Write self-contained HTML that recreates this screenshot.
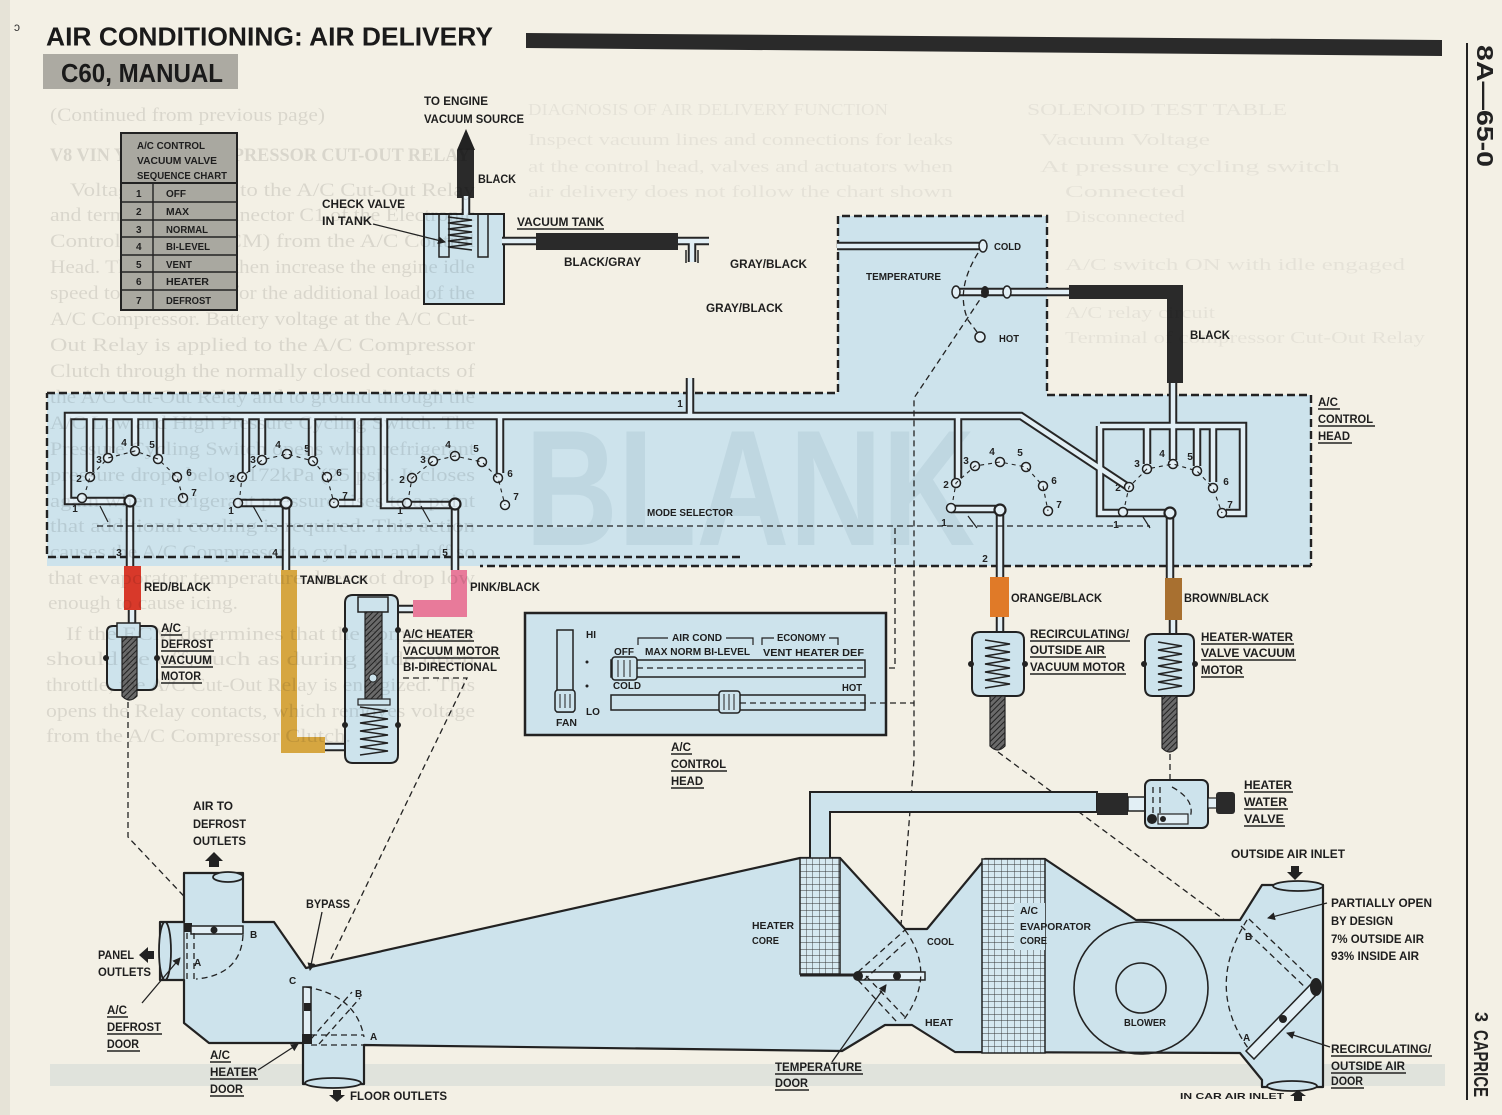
<!DOCTYPE html>
<html><head><meta charset="utf-8"><style>
html,body{margin:0;padding:0;background:#f3f0e5;}
svg{display:block}
.t{font-family:"Liberation Sans",sans-serif;font-weight:bold;font-size:11.5px;fill:#1e1e1e}
.s{font-family:"Liberation Sans",sans-serif;font-weight:bold;font-size:10px;fill:#1e1e1e}
.n{font-family:"Liberation Sans",sans-serif;font-weight:bold;font-size:10px;fill:#222;text-anchor:middle}
.b{font-family:"Liberation Serif",serif;font-size:19px;fill:#000;opacity:.10}
.b2{font-family:"Liberation Serif",serif;font-size:17px;fill:#000;opacity:.05}
.u{stroke:#222;stroke-width:1.4}
.d{fill:none;stroke:#222;stroke-width:1.3;stroke-dasharray:6 4}
.ln{fill:none;stroke:#222;stroke-width:2}
.bl{fill:#cde3ec}
</style></head><body>
<svg width="1502" height="1115" viewBox="0 0 1502 1115" xmlns="http://www.w3.org/2000/svg">
<defs>
<pattern id="hatch" width="4" height="4" patternUnits="userSpaceOnUse" patternTransform="rotate(45)"><rect width="4" height="4" fill="#6a6a6a"/><line x1="0" y1="0" x2="0" y2="4" stroke="#222" stroke-width="2"/></pattern>
<pattern id="grid" width="6.5" height="6.5" patternUnits="userSpaceOnUse"><rect width="6.5" height="6.5" fill="#d6e9f1"/><path d="M0,0H6.5M0,0V6.5" stroke="#333" stroke-width="0.9"/></pattern>
<marker id="ah" markerWidth="8" markerHeight="8" refX="7" refY="4" orient="auto" markerUnits="userSpaceOnUse"><path d="M0,0L8,4L0,8z" fill="#222"/></marker>
<g id="tubes">
<path d="M130,501H68V416H1021L1128,487"/>
<path d="M690,378V416"/>
<path d="M502,241H709"/>
<path d="M692,241V262"/>
<path d="M466,196V215"/>
<path d="M90,416V472M110,416V453M135,416V446M160,416V454"/>
<path d="M130,501V566"/>
<path d="M238,503H286V570"/>
<path d="M246,416V472M262,416V455M312,416V456"/>
<path d="M358,416V503H339"/>
<path d="M384,416V505H455V570"/>
<path d="M500,416V473"/>
<path d="M958,416V478"/>
<path d="M951,509H1000V577"/>
<path d="M1000,617V632"/>
<path d="M1100,426H1243V513H1226"/>
<path d="M1100,426V513H1170V578"/>
<path d="M1147,426V464M1173,426V460M1197,426V466M1213,426V482"/>
<path d="M1173,383V426"/>
<path d="M1173,620V634"/>
<path d="M837,246H983"/>
<path d="M956,292H1070"/>
<path d="M132,608V624"/>
<path d="M393,609H413"/>
<path d="M325,747H347"/>
</g>
</defs>

<!-- paper -->
<rect width="1502" height="1115" fill="#f3f0e5"/>
<rect x="0" y="0" width="10" height="1115" fill="#d9d5ca" opacity=".5"/>
<rect x="50" y="1064" width="1395" height="22" fill="#9fb5c0" opacity=".22"/>

<!-- title -->
<text x="46" y="45.5" textLength="447" lengthAdjust="spacingAndGlyphs" style="font-family:'Liberation Sans',sans-serif;font-weight:bold;font-size:25.5px;fill:#1a1a1a">AIR CONDITIONING: AIR DELIVERY</text>
<polygon points="526,33 1442,40 1442,56 526,48" fill="#2a2a2a"/>
<rect x="43" y="54" width="195" height="35" fill="#acaaa2"/>
<text x="61" y="82" textLength="162" lengthAdjust="spacingAndGlyphs" style="font-family:'Liberation Sans',sans-serif;font-weight:bold;font-size:25.5px;fill:#1a1a1a">C60, MANUAL</text>
<text x="14" y="31" style="font-family:'Liberation Sans',sans-serif;font-size:12px;fill:#333">ↄ</text>
<line x1="1467" y1="43" x2="1467" y2="1100" stroke="#222" stroke-width="2"/>
<text transform="translate(1477,45) rotate(90)" textLength="122" lengthAdjust="spacingAndGlyphs" style="font-family:'Liberation Sans',sans-serif;font-weight:bold;font-size:23px;fill:#222">8A—65-0</text>
<text transform="translate(1475,1012) rotate(90)" style="font-family:'Liberation Sans',sans-serif;font-weight:bold;font-size:18px;fill:#222">3</text>
<text transform="translate(1474,1030) rotate(90)" textLength="67" lengthAdjust="spacingAndGlyphs" style="font-family:'Liberation Sans',sans-serif;font-weight:bold;font-size:20px;fill:#222">CAPRICE</text>

<!-- blue control region -->
<polygon class="bl" points="47,393 838,393 838,216 1047,216 1047,395 1311,395 1311,566 47,566"/>
<text x="525" y="545" textLength="450" lengthAdjust="spacingAndGlyphs" style="font-family:'Liberation Sans',sans-serif;font-weight:bold;font-size:165px;fill:#bfd7e1">BLANK</text>
<path d="M47,393H838V216H1047V395H1311V566M1311,566H480M740,557H47V393" fill="none" stroke="#222" stroke-width="2.4" stroke-dasharray="8 4"/>

<!-- vacuum tank -->
<rect x="424" y="214" width="80" height="90" class="bl" stroke="#222" stroke-width="2"/>
<rect x="439" y="214" width="10" height="43" fill="none" stroke="#222" stroke-width="1.5"/>
<rect x="478" y="214" width="10" height="43" fill="none" stroke="#222" stroke-width="1.5"/>
<polygon points="466,129 457,150 475,150" fill="#222"/>
<rect x="457" y="150" width="17" height="48" fill="#2a2a2a"/>

<!-- tubes -->
<use href="#tubes" fill="none" stroke="#262626" stroke-width="8.5" stroke-linejoin="miter"/>
<use href="#tubes" fill="none" stroke="#e2eff5" stroke-width="4.5" stroke-linejoin="miter"/>
<polyline points="448,217 472,220 448,223 472,226 448,229 472,232 448,235 472,238 448,241 472,244 448,247 472,250" fill="none" stroke="#222" stroke-width="1.6"/>
<rect x="536" y="233" width="142" height="17" fill="#2a2a2a"/>
<path d="M686,250V263M698,250V263" stroke="#222" stroke-width="1.5"/>
<rect x="1069" y="285" width="114" height="14" fill="#2a2a2a"/>
<rect x="1167" y="285" width="16" height="98" fill="#2a2a2a"/>

<!-- temperature box details -->
<ellipse cx="983" cy="246" rx="4" ry="6" fill="#e2eff5" stroke="#222" stroke-width="1.5"/>
<ellipse cx="956" cy="292" rx="4" ry="6" fill="#e2eff5" stroke="#222" stroke-width="1.5"/>
<ellipse cx="985" cy="292" rx="4" ry="6" fill="#222"/>
<ellipse cx="1007" cy="292" rx="4" ry="6" fill="#e2eff5" stroke="#222" stroke-width="1.5"/>
<circle cx="980" cy="337" r="5" fill="#e2eff5" stroke="#222" stroke-width="1.5"/>
<path class="d" d="M978,253Q955,290 968,320L977,332"/>
<path class="d" d="M985,292L914,398V760L897,976"/>

<!-- selectors ports -->
<g fill="#e2eff5" stroke="#222" stroke-width="1.5">
<circle cx="82" cy="498" r="4.5"/><circle cx="90" cy="477" r="4.5"/><circle cx="108" cy="458" r="4.5"/><circle cx="135" cy="451" r="4.5"/><circle cx="158" cy="459" r="4.5"/><circle cx="177" cy="477" r="4.5"/><circle cx="183" cy="498" r="4.5"/>
<circle cx="238" cy="503" r="4.5"/><circle cx="242" cy="477" r="4.5"/><circle cx="262" cy="460" r="4.5"/><circle cx="287" cy="454" r="4.5"/><circle cx="313" cy="461" r="4.5"/><circle cx="327" cy="477" r="4.5"/><circle cx="334" cy="503" r="4.5"/>
<circle cx="407" cy="503" r="4.5"/><circle cx="412" cy="478" r="4.5"/><circle cx="433" cy="461" r="4.5"/><circle cx="455" cy="456" r="4.5"/><circle cx="482" cy="462" r="4.5"/><circle cx="498" cy="478" r="4.5"/><circle cx="505" cy="505" r="4.5"/>
<circle cx="951" cy="508" r="4.5"/><circle cx="956" cy="483" r="4.5"/><circle cx="975" cy="466" r="4.5"/><circle cx="1000" cy="462" r="4.5"/><circle cx="1026" cy="467" r="4.5"/><circle cx="1043" cy="486" r="4.5"/><circle cx="1048" cy="511" r="4.5"/>
<circle cx="1123" cy="512" r="4.5"/><circle cx="1129" cy="487" r="4.5"/><circle cx="1147" cy="469" r="4.5"/><circle cx="1173" cy="464" r="4.5"/><circle cx="1197" cy="471" r="4.5"/><circle cx="1213" cy="488" r="4.5"/><circle cx="1222" cy="513" r="4.5"/>
</g>
<g fill="#e2eff5" stroke="#222" stroke-width="2.2">
<circle cx="130" cy="501" r="5.5"/><circle cx="286" cy="503" r="5.5"/><circle cx="455" cy="504" r="5.5"/><circle cx="1000" cy="510" r="5.5"/><circle cx="1170" cy="513" r="5.5"/>
</g>
<g fill="none" stroke="#222" stroke-width="1.1" stroke-dasharray="4 4">
<path d="M86,490L90,477L108,458L135,451L158,459L177,477L183,498"/>
<path d="M240,495L242,477L262,460L287,454L313,461L327,477L334,503"/>
<path d="M409,495L412,478L433,461L455,456L482,462L498,478L505,505"/>
<path d="M953,500L956,483L975,466L1000,462L1026,467L1043,486L1048,511"/>
<path d="M1125,505L1129,487L1147,469L1173,464L1197,471L1213,488L1222,513"/>
</g>
<g>
<text class="n" x="75" y="512">1</text><text class="n" x="79" y="482">2</text><text class="n" x="99" y="463">3</text><text class="n" x="124" y="446">4</text><text class="n" x="152" y="448">5</text><text class="n" x="189" y="476">6</text><text class="n" x="194" y="496">7</text>
<text class="n" x="231" y="514">1</text><text class="n" x="232" y="482">2</text><text class="n" x="253" y="463">3</text><text class="n" x="278" y="448">4</text><text class="n" x="307" y="452">5</text><text class="n" x="339" y="476">6</text><text class="n" x="345" y="499">7</text>
<text class="n" x="400" y="514">1</text><text class="n" x="402" y="483">2</text><text class="n" x="423" y="463">3</text><text class="n" x="448" y="448">4</text><text class="n" x="476" y="452">5</text><text class="n" x="510" y="477">6</text><text class="n" x="516" y="500">7</text>
<text class="n" x="944" y="526">1</text><text class="n" x="946" y="488">2</text><text class="n" x="966" y="464">3</text><text class="n" x="992" y="455">4</text><text class="n" x="1020" y="456">5</text><text class="n" x="1054" y="484">6</text><text class="n" x="1059" y="508">7</text>
<text class="n" x="1116" y="528">1</text><text class="n" x="1118" y="491">2</text><text class="n" x="1137" y="467">3</text><text class="n" x="1162" y="457">4</text><text class="n" x="1190" y="460">5</text><text class="n" x="1226" y="485">6</text><text class="n" x="1230" y="508">7</text>
<text class="n" x="680" y="407">1</text>
<text class="n" x="119" y="556">3</text><text class="n" x="275" y="556">4</text><text class="n" x="445" y="556">5</text><text class="n" x="985" y="562">2</text>
</g>
<!-- mode selector linkage -->
<path class="d" d="M97,526H1150"/>
<path d="M100,506L108,522M253,506L262,522M421,506L430,522M968,516L977,528M1143,517L1150,528" stroke="#222" stroke-width="1.2"/>
<path class="d" d="M895,528V668H865"/>

<!-- colored hoses -->
<rect x="124" y="566" width="17" height="44" fill="#d8392a"/>
<path d="M281,570H297V737H325V753H281Z" fill="#d6a640"/>
<path d="M451,570H467V617H413V600H451Z" fill="#e87a9a"/>
<rect x="990" y="577" width="19" height="40" fill="#e07a28"/>
<rect x="1165" y="578" width="17" height="42" fill="#a87030"/>

<!-- A/C defrost vacuum motor -->
<path d="M107,632Q107,626 113,626H151Q157,626 157,632V682Q157,690 149,690H115Q107,690 107,682Z" class="bl" stroke="#222" stroke-width="2"/>
<rect x="117" y="623" width="23" height="14" class="bl" stroke="#222" stroke-width="1.5"/>
<path d="M122,637H137V696Q129.5,704 122,696Z" fill="url(#hatch)" stroke="#222" stroke-width="1.2"/>
<circle cx="106" cy="658" r="3" fill="#222"/><circle cx="157" cy="658" r="3" fill="#222"/>
<path class="d" d="M128,702V837L214,928"/>

<!-- A/C heater vacuum motor -->
<path d="M345,603Q345,595 353,595H390Q398,595 398,603V755Q398,763 390,763H353Q345,763 345,755Z" class="bl" stroke="#222" stroke-width="2"/>
<rect x="358" y="597" width="30" height="15" class="bl" stroke="#222" stroke-width="1.5"/>
<rect x="365" y="612" width="17" height="88" fill="url(#hatch)" stroke="#222" stroke-width="1.2"/>
<circle cx="373" cy="678" r="4" fill="#cde3ec" stroke="#222"/>
<rect x="358" y="699" width="32" height="6" class="bl" stroke="#222" stroke-width="1.2"/>
<polyline points="360,707 388,711 360,715 388,719 360,723 388,727 360,731 388,735 360,739 388,743 360,747 388,751 360,755" fill="none" stroke="#222" stroke-width="1.5"/>
<circle cx="345" cy="630" r="3" fill="#222"/><circle cx="398" cy="630" r="3" fill="#222"/><circle cx="345" cy="725" r="3" fill="#222"/><circle cx="398" cy="725" r="3" fill="#222"/>
<path class="d" d="M403,678H467L311,1000"/>

<!-- recirculating motor -->
<path d="M972,640Q972,632 980,632H1016Q1024,632 1024,640V688Q1024,696 1016,696H980Q972,696 972,688Z" class="bl" stroke="#222" stroke-width="2"/>
<polyline points="985,640 1010,644 985,648 1010,652 985,656 1010,660 985,664 1010,668 985,672 1010,676 985,680 1010,684 985,688" fill="none" stroke="#222" stroke-width="1.5"/>
<path d="M990,696H1005V746Q997.5,754 990,746Z" fill="url(#hatch)" stroke="#222" stroke-width="1.2"/>
<circle cx="971" cy="664" r="3" fill="#222"/><circle cx="1025" cy="664" r="3" fill="#222"/>
<path class="d" d="M998,752L1315,987"/>

<!-- heater water valve motor -->
<path d="M1145,642Q1145,634 1153,634H1186Q1194,634 1194,642V688Q1194,696 1186,696H1153Q1145,696 1145,688Z" class="bl" stroke="#222" stroke-width="2"/>
<polyline points="1158,642 1182,646 1158,650 1182,654 1158,658 1182,662 1158,666 1182,670 1158,674 1182,678 1158,682 1182,686 1158,690" fill="none" stroke="#222" stroke-width="1.5"/>
<path d="M1162,696H1177V748Q1169.5,756 1162,748Z" fill="url(#hatch)" stroke="#222" stroke-width="1.2"/>
<circle cx="1144" cy="664" r="3" fill="#222"/><circle cx="1195" cy="664" r="3" fill="#222"/>
<path class="d" d="M1170,754V790"/>

<!-- control panel -->
<rect x="525" y="613" width="361" height="122" class="bl" stroke="#222" stroke-width="2.5"/>
<rect x="557" y="630" width="16" height="82" fill="none" stroke="#222" stroke-width="1.5"/>
<rect x="555" y="690" width="20" height="22" rx="3" class="bl" stroke="#222" stroke-width="1.5"/>
<path d="M560,694V708M565,694V708M570,694V708" stroke="#222"/>
<rect x="611" y="660" width="254" height="17" fill="none" stroke="#222" stroke-width="1.5"/>
<rect x="611" y="695" width="254" height="15" fill="none" stroke="#222" stroke-width="1.5"/>
<rect x="612" y="657" width="25" height="23" rx="3" class="bl" stroke="#222" stroke-width="1.5"/>
<path d="M618,660V677M624,660V677M630,660V677" stroke="#222"/>
<rect x="719" y="691" width="21" height="22" rx="3" class="bl" stroke="#222" stroke-width="1.5"/>
<path d="M724,694V710M729,694V710M734,694V710" stroke="#222"/>
<path class="d" d="M637,668H865M740,703H914"/>
<path d="M638,645V638H668M726,638H753V645M762,645V638H774M829,638H838V645" fill="none" stroke="#222" stroke-width="1.2"/>
<text class="s" x="586" y="638">HI</text>
<text class="s" x="672" y="641" textLength="50" lengthAdjust="spacingAndGlyphs">AIR COND</text>
<text class="s" x="777" y="641" textLength="49" lengthAdjust="spacingAndGlyphs">ECONOMY</text>
<text class="s" x="614" y="655" textLength="20" lengthAdjust="spacingAndGlyphs">OFF</text>
<text class="s" x="645" y="655" textLength="105" lengthAdjust="spacingAndGlyphs">MAX NORM BI-LEVEL</text>
<text class="s" x="763" y="656" textLength="101" lengthAdjust="spacingAndGlyphs">VENT HEATER DEF</text>
<circle cx="587" cy="662" r="1.5" fill="#222"/><circle cx="587" cy="686" r="1.5" fill="#222"/>
<text class="s" x="613" y="689" textLength="28" lengthAdjust="spacingAndGlyphs">COLD</text>
<text class="s" x="842" y="691" textLength="20" lengthAdjust="spacingAndGlyphs">HOT</text>
<text class="s" x="586" y="715">LO</text>
<text class="s" x="556" y="726" textLength="21" lengthAdjust="spacingAndGlyphs">FAN</text>

<!-- duct -->
<polygon class="bl" stroke="#222" stroke-width="2.2" stroke-linejoin="round" points="160,922 184,922 184,873 243,873 243,922 274,922 306,968 800,858 840,858 905,929 927,929 985,859 1045,859 1136,920 1240,920 1262,885 1323,885 1323,1087 1262,1087 1262,1080 1240,1053 955,1052 912,1025 885,1025 842,1051 364,1045 364,1084 303,1084 303,1043 209,1043 184,1023 184,980 160,980"/>
<ellipse cx="165" cy="951" rx="6" ry="29" class="bl" stroke="#222" stroke-width="1.8"/>
<ellipse cx="228" cy="877" rx="15" ry="5" class="bl" stroke="#222" stroke-width="1.8"/>
<ellipse cx="333" cy="1083" rx="28" ry="5" class="bl" stroke="#222" stroke-width="1.8"/>
<ellipse cx="1298" cy="886" rx="25" ry="5" class="bl" stroke="#222" stroke-width="1.8"/>
<ellipse cx="1292" cy="1086" rx="25" ry="5" class="bl" stroke="#222" stroke-width="1.8"/>
<path d="M184,923V980" stroke="#222" stroke-width="1.2"/>
<!-- heater pipe -->
<path d="M810,859V792H1097V812H830V859Z" class="bl" stroke="#222" stroke-width="2"/>
<rect x="1097" y="793" width="31" height="22" fill="#2a2a2a"/>
<rect x="1128" y="797" width="17" height="14" fill="#e2eff5" stroke="#222" stroke-width="1.5"/>
<rect x="1145" y="780" width="63" height="48" rx="6" class="bl" stroke="#222" stroke-width="2"/>
<rect x="1208" y="798" width="9" height="10" fill="#e2eff5" stroke="#222" stroke-width="1.2"/>
<rect x="1216" y="792" width="19" height="22" rx="3" fill="#2a2a2a"/>
<path class="d" d="M1153,787V815M1160,787V815M1172,787Q1196,800 1190,818"/>
<rect x="1158" y="814" width="30" height="10" fill="#e2eff5" stroke="#222" stroke-width="1.2"/>
<circle cx="1152" cy="819" r="5" fill="#222"/><circle cx="1163" cy="819" r="3" fill="#222"/>
<!-- cores -->
<rect x="800" y="858" width="40" height="116" fill="url(#grid)" stroke="#222" stroke-width="1.5"/>
<rect x="982" y="859" width="63" height="194" fill="url(#grid)" stroke="#222" stroke-width="1.5"/>
<rect x="1014" y="903" width="31" height="47" class="bl"/>
<path d="M800,975H858" stroke="#222" stroke-width="3"/>
<!-- temperature door -->
<rect x="858" y="972" width="67" height="8" fill="#e2eff5" stroke="#222" stroke-width="1.5"/>
<circle cx="858" cy="976" r="5" fill="#222"/><circle cx="897" cy="976" r="4" fill="#222"/>
<path class="d" d="M858,972L905,930M864,980L906,942M858,980L897,1022M866,976L905,1017M905,930Q938,975 902,1022"/>
<!-- blower -->
<ellipse cx="1141" cy="988" rx="67" ry="66" fill="none" stroke="#222" stroke-width="1.6"/>
<ellipse cx="1141" cy="988" rx="25" ry="25" fill="none" stroke="#222" stroke-width="1.6"/>
<!-- recirc door -->
<path class="d" d="M1249,919L1317,984M1241,926L1309,991M1247,920Q1205,987 1248,1048"/>
<polygon points="1312,983 1320,991 1254,1059 1246,1051" fill="#e2eff5" stroke="#222" stroke-width="1.5"/>
<ellipse cx="1316" cy="987" rx="6" ry="9" fill="#222"/>
<circle cx="1283" cy="1019" r="4" fill="#222"/>
<!-- defrost door -->
<rect x="184" y="923" width="8" height="9" fill="#222"/>
<rect x="191" y="926" width="52" height="8" fill="#e2eff5" stroke="#222" stroke-width="1.5"/>
<circle cx="214" cy="930" r="3.5" fill="#222"/>
<path class="d" d="M187,933V980M194,933V980M243,935Q241,975 196,979"/>
<!-- bypass / heater door -->
<rect x="303" y="987" width="8" height="56" fill="#e2eff5" stroke="#222" stroke-width="1.5"/>
<rect x="304" y="1003" width="7" height="8" fill="#222"/>
<rect x="302" y="1034" width="10" height="10" fill="#222"/>
<path class="d" d="M311,1039L352,992M319,1044L360,998M306,987Q356,995 364,1037M311,1035H364M311,1045H364"/>

<!-- arrows -->
<polygon points="209,867 209,861 205,861 214,852 223,861 219,861 219,867" fill="#222"/>
<polygon points="154,951 148,951 148,947 139,955 148,963 148,959 154,959" fill="#222"/>
<polygon points="333,1090 333,1095 329,1095 337,1102 345,1095 341,1095 341,1090" fill="#222"/>
<polygon points="1291,866 1291,872 1287,872 1295,880 1303,872 1299,872 1299,866" fill="#222"/>
<polygon points="1294,1101 1294,1096 1290,1096 1298,1090 1306,1096 1302,1096 1302,1101" fill="#222"/>
<g stroke="#222" stroke-width="1.3" fill="none" marker-end="url(#ah)">
<path d="M373,224L445,242"/>
<path d="M142,1003L180,958"/>
<path d="M258,1070L298,1044"/>
<path d="M322,912L310,970"/>
<path d="M832,1062L886,985"/>
<path d="M1327,903L1268,918"/>
<path d="M1330,1047L1287,1033"/>
</g>

<!-- bleed-through text -->
<g>
<text class="b" x="50" y="121" textLength="275" lengthAdjust="spacingAndGlyphs">(Continued from previous page)</text>
<text class="b" x="50" y="161" textLength="420" lengthAdjust="spacingAndGlyphs" style="font-weight:bold">V8 VIN Y — A/C COMPRESSOR CUT-OUT RELAY</text>
<text class="b" x="70" y="196" textLength="405" lengthAdjust="spacingAndGlyphs">Voltage is applied to the A/C Cut-Out Relay</text>
<text class="b" x="50" y="221" textLength="425" lengthAdjust="spacingAndGlyphs">and terminal B of connector C1 of the Electronic</text>
<text class="b" x="50" y="247" textLength="425" lengthAdjust="spacingAndGlyphs">Control Module (ECM) from the A/C Control</text>
<text class="b" x="50" y="273" textLength="425" lengthAdjust="spacingAndGlyphs">Head. The ECM will then increase the engine idle</text>
<text class="b" x="50" y="299" textLength="425" lengthAdjust="spacingAndGlyphs">speed to compensate for the additional load of the</text>
<text class="b" x="50" y="325" textLength="425" lengthAdjust="spacingAndGlyphs">A/C Compressor. Battery voltage at the A/C Cut-</text>
<text class="b" x="50" y="351" textLength="425" lengthAdjust="spacingAndGlyphs">Out Relay is applied to the A/C Compressor</text>
<text class="b" x="50" y="377" textLength="425" lengthAdjust="spacingAndGlyphs">Clutch through the normally closed contacts of</text>
<text class="b" x="50" y="403" textLength="425" lengthAdjust="spacingAndGlyphs">the A/C Cut-Out Relay and to ground through the</text>
<text class="b" x="50" y="429" textLength="425" lengthAdjust="spacingAndGlyphs">A/C Low and High Pressure Cycling Switch. The</text>
<text class="b" x="50" y="455" textLength="425" lengthAdjust="spacingAndGlyphs">Pressure Cycling Switch opens when refrigerant</text>
<text class="b" x="50" y="481" textLength="425" lengthAdjust="spacingAndGlyphs">pressure drops below 172kPa (25 psi). It closes</text>
<text class="b" x="50" y="507" textLength="425" lengthAdjust="spacingAndGlyphs">again when refrigerant pressure rises to a point</text>
<text class="b" x="50" y="532" textLength="425" lengthAdjust="spacingAndGlyphs">that additional cooling is required. This action</text>
<text class="b" x="50" y="558" textLength="425" lengthAdjust="spacingAndGlyphs">causes the A/C Compressor to cycle on and off so</text>
<text class="b" x="48" y="584" textLength="427" lengthAdjust="spacingAndGlyphs">that evaporator temperature does not drop low</text>
<text class="b" x="48" y="609" textLength="190" lengthAdjust="spacingAndGlyphs">enough to cause icing.</text>
<text class="b" x="66" y="640" textLength="409" lengthAdjust="spacingAndGlyphs">If the ECM determines that the compressor</text>
<text class="b" x="46" y="665" textLength="429" lengthAdjust="spacingAndGlyphs">should be off, such as during wide open</text>
<text class="b" x="46" y="691" textLength="429" lengthAdjust="spacingAndGlyphs">throttle, the A/C Cut-Out Relay is energized. This</text>
<text class="b" x="46" y="717" textLength="429" lengthAdjust="spacingAndGlyphs">opens the Relay contacts, which removes voltage</text>
<text class="b" x="46" y="742" textLength="305" lengthAdjust="spacingAndGlyphs">from the A/C Compressor Clutch.</text>
<text class="b2" x="528" y="115" textLength="360" lengthAdjust="spacingAndGlyphs">DIAGNOSIS OF AIR DELIVERY FUNCTION</text>
<text class="b2" x="528" y="145" textLength="425" lengthAdjust="spacingAndGlyphs">Inspect vacuum lines and connections for leaks</text>
<text class="b2" x="528" y="172" textLength="425" lengthAdjust="spacingAndGlyphs">at the control head, valves and actuators when</text>
<text class="b2" x="528" y="197" textLength="425" lengthAdjust="spacingAndGlyphs">air delivery does not follow the chart shown</text>
<text class="b2" x="1027" y="115" textLength="260" lengthAdjust="spacingAndGlyphs">SOLENOID TEST TABLE</text>
<text class="b2" x="1040" y="145" textLength="170" lengthAdjust="spacingAndGlyphs">Vacuum Voltage</text>
<text class="b2" x="1040" y="172" textLength="300" lengthAdjust="spacingAndGlyphs">At pressure cycling switch</text>
<text class="b2" x="1065" y="197" textLength="120" lengthAdjust="spacingAndGlyphs">Connected</text>
<text class="b2" x="1065" y="222" textLength="120" lengthAdjust="spacingAndGlyphs">Disconnected</text>
<text class="b2" x="1065" y="270" textLength="340" lengthAdjust="spacingAndGlyphs">A/C switch ON with idle engaged</text>
<text class="b2" x="1065" y="318" textLength="150" lengthAdjust="spacingAndGlyphs">A/C relay circuit</text>
<text class="b2" x="1065" y="343" textLength="360" lengthAdjust="spacingAndGlyphs">Terminal of compressor Cut-Out Relay</text>
</g>

<!-- sequence chart (drawn over bleed) -->
<rect x="121" y="133" width="116" height="177" fill="#a9a8a0" stroke="#222" stroke-width="2"/>
<line x1="121" y1="183" x2="237" y2="183" stroke="#222" stroke-width="2"/>
<path d="M121,202H237M121,220H237M121,237H237M121,255H237M121,272H237M121,290H237M153,183V310" stroke="#222" stroke-width="1.4"/>
<text class="s" x="137" y="149" textLength="68" lengthAdjust="spacingAndGlyphs">A/C CONTROL</text>
<text class="s" x="137" y="164" textLength="80" lengthAdjust="spacingAndGlyphs">VACUUM VALVE</text>
<text class="s" x="137" y="179" textLength="90" lengthAdjust="spacingAndGlyphs">SEQUENCE CHART</text>
<text class="s" x="136" y="197">1</text><text class="s" x="166" y="197" textLength="20" lengthAdjust="spacingAndGlyphs">OFF</text>
<text class="s" x="136" y="215">2</text><text class="s" x="166" y="215" textLength="23" lengthAdjust="spacingAndGlyphs">MAX</text>
<text class="s" x="136" y="233">3</text><text class="s" x="166" y="233" textLength="42" lengthAdjust="spacingAndGlyphs">NORMAL</text>
<text class="s" x="136" y="250">4</text><text class="s" x="166" y="250" textLength="44" lengthAdjust="spacingAndGlyphs">BI-LEVEL</text>
<text class="s" x="136" y="268">5</text><text class="s" x="166" y="268" textLength="26" lengthAdjust="spacingAndGlyphs">VENT</text>
<text class="s" x="136" y="285">6</text><text class="s" x="166" y="285" textLength="43" lengthAdjust="spacingAndGlyphs">HEATER</text>
<text class="s" x="136" y="304">7</text><text class="s" x="166" y="304" textLength="45" lengthAdjust="spacingAndGlyphs">DEFROST</text>

<!-- labels -->
<g class="t">
<text class="t" x="424" y="105" textLength="64" lengthAdjust="spacingAndGlyphs">TO ENGINE</text>
<text class="t" x="424" y="123" textLength="100" lengthAdjust="spacingAndGlyphs">VACUUM SOURCE</text>
<text class="t" x="478" y="183" textLength="38" lengthAdjust="spacingAndGlyphs">BLACK</text>
<text class="t" x="322" y="208" textLength="83" lengthAdjust="spacingAndGlyphs">CHECK VALVE</text>
<text class="t" x="322" y="225" textLength="50" lengthAdjust="spacingAndGlyphs">IN TANK</text>
<text class="t" x="517" y="226" textLength="87" lengthAdjust="spacingAndGlyphs">VACUUM TANK</text>
<text class="t" x="564" y="266" textLength="77" lengthAdjust="spacingAndGlyphs">BLACK/GRAY</text>
<text class="t" x="730" y="268" textLength="77" lengthAdjust="spacingAndGlyphs">GRAY/BLACK</text>
<text class="t" x="706" y="312" textLength="77" lengthAdjust="spacingAndGlyphs">GRAY/BLACK</text>
<text class="s" x="994" y="250" textLength="27" lengthAdjust="spacingAndGlyphs">COLD</text>
<text class="s" x="866" y="280" textLength="75" lengthAdjust="spacingAndGlyphs">TEMPERATURE</text>
<text class="s" x="999" y="342" textLength="20" lengthAdjust="spacingAndGlyphs">HOT</text>
<text class="t" x="1190" y="339" textLength="40" lengthAdjust="spacingAndGlyphs">BLACK</text>
<text class="t" x="1318" y="406" textLength="20" lengthAdjust="spacingAndGlyphs">A/C</text>
<text class="t" x="1318" y="423" textLength="55" lengthAdjust="spacingAndGlyphs">CONTROL</text>
<text class="t" x="1318" y="440" textLength="32" lengthAdjust="spacingAndGlyphs">HEAD</text>
<text class="s" x="647" y="516" textLength="86" lengthAdjust="spacingAndGlyphs">MODE SELECTOR</text>
<text class="t" x="144" y="591" textLength="67" lengthAdjust="spacingAndGlyphs">RED/BLACK</text>
<text class="t" x="300" y="584" textLength="68" lengthAdjust="spacingAndGlyphs">TAN/BLACK</text>
<text class="t" x="470" y="591" textLength="70" lengthAdjust="spacingAndGlyphs">PINK/BLACK</text>
<text class="t" x="1011" y="602" textLength="91" lengthAdjust="spacingAndGlyphs">ORANGE/BLACK</text>
<text class="t" x="1184" y="602" textLength="85" lengthAdjust="spacingAndGlyphs">BROWN/BLACK</text>
<text class="t" x="161" y="632" textLength="20" lengthAdjust="spacingAndGlyphs">A/C</text>
<text class="t" x="161" y="648" textLength="52" lengthAdjust="spacingAndGlyphs">DEFROST</text>
<text class="t" x="161" y="664" textLength="51" lengthAdjust="spacingAndGlyphs">VACUUM</text>
<text class="t" x="161" y="680" textLength="40" lengthAdjust="spacingAndGlyphs">MOTOR</text>
<text class="t" x="403" y="638" textLength="70" lengthAdjust="spacingAndGlyphs">A/C HEATER</text>
<text class="t" x="403" y="655" textLength="96" lengthAdjust="spacingAndGlyphs">VACUUM MOTOR</text>
<text class="t" x="403" y="671" textLength="94" lengthAdjust="spacingAndGlyphs">BI-DIRECTIONAL</text>
<text class="t" x="1030" y="638" textLength="99" lengthAdjust="spacingAndGlyphs">RECIRCULATING/</text>
<text class="t" x="1030" y="654" textLength="75" lengthAdjust="spacingAndGlyphs">OUTSIDE AIR</text>
<text class="t" x="1030" y="671" textLength="95" lengthAdjust="spacingAndGlyphs">VACUUM MOTOR</text>
<text class="t" x="1201" y="641" textLength="92" lengthAdjust="spacingAndGlyphs">HEATER-WATER</text>
<text class="t" x="1201" y="657" textLength="94" lengthAdjust="spacingAndGlyphs">VALVE VACUUM</text>
<text class="t" x="1201" y="674" textLength="42" lengthAdjust="spacingAndGlyphs">MOTOR</text>
<text class="t" x="671" y="751" textLength="20" lengthAdjust="spacingAndGlyphs">A/C</text>
<text class="t" x="671" y="768" textLength="55" lengthAdjust="spacingAndGlyphs">CONTROL</text>
<text class="t" x="671" y="785" textLength="32" lengthAdjust="spacingAndGlyphs">HEAD</text>
<text class="t" x="1244" y="789" textLength="48" lengthAdjust="spacingAndGlyphs">HEATER</text>
<text class="t" x="1244" y="806" textLength="43" lengthAdjust="spacingAndGlyphs">WATER</text>
<text class="t" x="1244" y="823" textLength="40" lengthAdjust="spacingAndGlyphs">VALVE</text>
<text class="t" x="1231" y="858" textLength="114" lengthAdjust="spacingAndGlyphs">OUTSIDE AIR INLET</text>
<text class="t" x="193" y="810" textLength="40" lengthAdjust="spacingAndGlyphs">AIR TO</text>
<text class="t" x="193" y="828" textLength="53" lengthAdjust="spacingAndGlyphs">DEFROST</text>
<text class="t" x="193" y="845" textLength="53" lengthAdjust="spacingAndGlyphs">OUTLETS</text>
<text class="t" x="306" y="908" textLength="44" lengthAdjust="spacingAndGlyphs">BYPASS</text>
<text class="s" x="752" y="929" textLength="42" lengthAdjust="spacingAndGlyphs">HEATER</text>
<text class="s" x="752" y="944" textLength="27" lengthAdjust="spacingAndGlyphs">CORE</text>
<text class="s" x="927" y="945" textLength="27" lengthAdjust="spacingAndGlyphs">COOL</text>
<text class="s" x="925" y="1026" textLength="28" lengthAdjust="spacingAndGlyphs">HEAT</text>
<text class="s" x="1020" y="914" textLength="18" lengthAdjust="spacingAndGlyphs">A/C</text>
<text class="s" x="1020" y="930" textLength="71" lengthAdjust="spacingAndGlyphs">EVAPORATOR</text>
<text class="s" x="1020" y="944" textLength="27" lengthAdjust="spacingAndGlyphs">CORE</text>
<text class="s" x="1124" y="1026" textLength="42" lengthAdjust="spacingAndGlyphs">BLOWER</text>
<text class="t" x="1331" y="907" textLength="101" lengthAdjust="spacingAndGlyphs">PARTIALLY OPEN</text>
<text class="t" x="1331" y="925" textLength="62" lengthAdjust="spacingAndGlyphs">BY DESIGN</text>
<text class="t" x="1331" y="943" textLength="93" lengthAdjust="spacingAndGlyphs">7% OUTSIDE AIR</text>
<text class="t" x="1331" y="960" textLength="88" lengthAdjust="spacingAndGlyphs">93% INSIDE AIR</text>
<text class="t" x="98" y="959" textLength="36" lengthAdjust="spacingAndGlyphs">PANEL</text>
<text class="t" x="98" y="976" textLength="53" lengthAdjust="spacingAndGlyphs">OUTLETS</text>
<text class="t" x="107" y="1014" textLength="20" lengthAdjust="spacingAndGlyphs">A/C</text>
<text class="t" x="107" y="1031" textLength="54" lengthAdjust="spacingAndGlyphs">DEFROST</text>
<text class="t" x="107" y="1048" textLength="32" lengthAdjust="spacingAndGlyphs">DOOR</text>
<text class="t" x="210" y="1059" textLength="20" lengthAdjust="spacingAndGlyphs">A/C</text>
<text class="t" x="210" y="1076" textLength="47" lengthAdjust="spacingAndGlyphs">HEATER</text>
<text class="t" x="210" y="1093" textLength="33" lengthAdjust="spacingAndGlyphs">DOOR</text>
<text class="t" x="350" y="1100" textLength="97" lengthAdjust="spacingAndGlyphs">FLOOR OUTLETS</text>
<text class="t" x="775" y="1071" textLength="87" lengthAdjust="spacingAndGlyphs">TEMPERATURE</text>
<text class="t" x="775" y="1087" textLength="33" lengthAdjust="spacingAndGlyphs">DOOR</text>
<text class="t" x="1331" y="1053" textLength="100" lengthAdjust="spacingAndGlyphs">RECIRCULATING/</text>
<text class="t" x="1331" y="1070" textLength="74" lengthAdjust="spacingAndGlyphs">OUTSIDE AIR</text>
<text class="t" x="1331" y="1085" textLength="32" lengthAdjust="spacingAndGlyphs">DOOR</text>
<text class="s" x="1180" y="1099" textLength="104" lengthAdjust="spacingAndGlyphs" style="font-size:8.5px">IN CAR AIR INLET</text>
<text class="s" x="250" y="938">B</text><text class="s" x="194" y="966">A</text><text class="s" x="289" y="984">C</text><text class="s" x="355" y="997">B</text><text class="s" x="370" y="1040">A</text>
<text class="s" x="1245" y="940">B</text><text class="s" x="1243" y="1041">A</text>
</g>
<!-- underlines -->
<g class="u">
<line x1="517" y1="229" x2="604" y2="229"/>
<line x1="1318" y1="409" x2="1340" y2="409"/><line x1="1318" y1="426" x2="1375" y2="426"/><line x1="1318" y1="443" x2="1352" y2="443"/>
<line x1="161" y1="635" x2="182" y2="635"/><line x1="161" y1="651" x2="214" y2="651"/><line x1="161" y1="667" x2="213" y2="667"/><line x1="161" y1="683" x2="202" y2="683"/>
<line x1="403" y1="641" x2="474" y2="641"/><line x1="403" y1="658" x2="500" y2="658"/>
<line x1="1030" y1="641" x2="1130" y2="641"/><line x1="1030" y1="657" x2="1106" y2="657"/><line x1="1030" y1="674" x2="1126" y2="674"/>
<line x1="1201" y1="644" x2="1294" y2="644"/><line x1="1201" y1="660" x2="1296" y2="660"/><line x1="1201" y1="677" x2="1244" y2="677"/>
<line x1="671" y1="754" x2="692" y2="754"/><line x1="671" y1="771" x2="727" y2="771"/><line x1="671" y1="788" x2="704" y2="788"/>
<line x1="1244" y1="792" x2="1293" y2="792"/><line x1="1244" y1="809" x2="1288" y2="809"/><line x1="1244" y1="826" x2="1285" y2="826"/>
<line x1="107" y1="1017" x2="128" y2="1017"/><line x1="107" y1="1034" x2="162" y2="1034"/><line x1="107" y1="1051" x2="140" y2="1051"/>
<line x1="210" y1="1062" x2="231" y2="1062"/><line x1="210" y1="1079" x2="258" y2="1079"/><line x1="210" y1="1096" x2="244" y2="1096"/>
<line x1="775" y1="1074" x2="863" y2="1074"/><line x1="775" y1="1090" x2="809" y2="1090"/>
<line x1="1331" y1="1056" x2="1432" y2="1056"/><line x1="1331" y1="1073" x2="1406" y2="1073"/><line x1="1331" y1="1088" x2="1364" y2="1088"/>
</g>
</svg>
</body></html>
